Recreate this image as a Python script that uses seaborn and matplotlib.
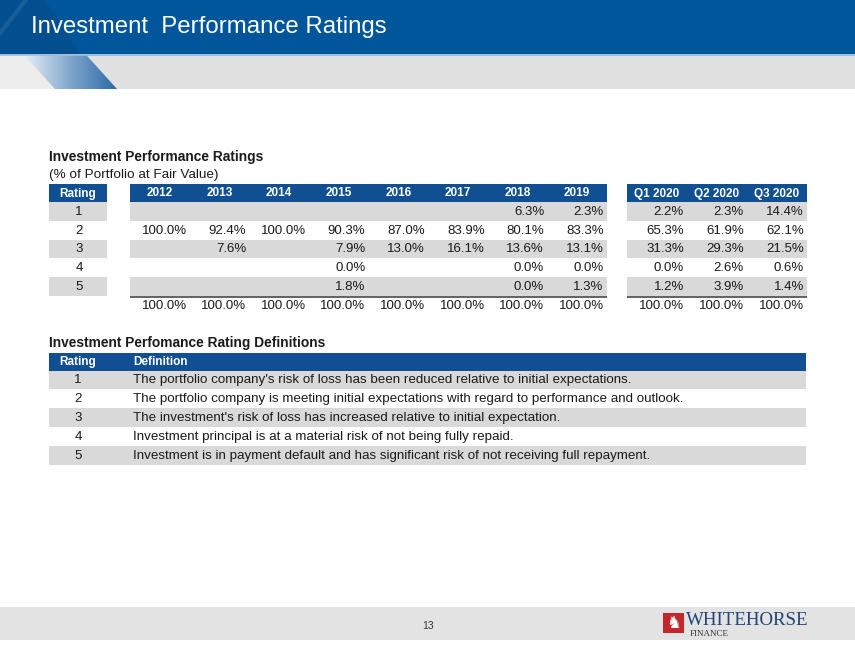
import numpy as np
import pandas as pd
import matplotlib.pyplot as plt
import seaborn as sns
from matplotlib import font_manager
from matplotlib.patches import Rectangle, Polygon
from matplotlib.colors import LinearSegmentedColormap

# ---- data ----
periods = ['2012', '2013', '2014', '2015', '2016', '2017', '2018', '2019',
           'Q1 2020', 'Q2 2020', 'Q3 2020']
ratings = [1, 2, 3, 4, 5]
nan = np.nan
rating_1 = [nan, nan, nan, nan, nan, nan, 6.3, 2.3, 2.2, 2.3, 14.4]
rating_2 = [100.0, 92.4, 100.0, 90.3, 87.0, 83.9, 80.1, 83.3, 65.3, 61.9, 62.1]
rating_3 = [nan, 7.6, nan, 7.9, 13.0, 16.1, 13.6, 13.1, 31.3, 29.3, 21.5]
rating_4 = [nan, nan, nan, 0.0, nan, nan, 0.0, 0.0, 0.0, 2.6, 0.6]
rating_5 = [nan, nan, nan, 1.8, nan, nan, 0.0, 1.3, 1.2, 3.9, 1.4]
totals = [100.0, 100.0, 100.0, 100.0, 100.0, 100.0, 100.0, 100.0, 100.0, 100.0, 100.0]

definitions = [
    "The portfolio company's risk of loss has been reduced relative to initial expectations.",
    "The portfolio company is meeting initial expectations with regard to performance and outlook.",
    "The investment's risk of loss has increased relative to initial expectation.",
    "Investment principal is at a material risk of not being fully repaid.",
    "Investment is in payment default and has significant risk of not receiving full repayment.",
]

df = pd.DataFrame([rating_1, rating_2, rating_3, rating_4, rating_5],
                  index=ratings, columns=periods)

sns.set_theme(style="white")
installed = {f.name for f in font_manager.fontManager.ttflist}
plt.rcParams['font.family'] = ['Liberation Sans', 'DejaVu Sans']
narrow = 'Liberation Sans Narrow' if 'Liberation Sans Narrow' in installed else 'Liberation Sans'
serif = 'Liberation Serif' if 'Liberation Serif' in installed else 'DejaVu Serif'

BLUE = '#00569B'
TBLUE = '#0F4F92'
GREY = '#D9D9D9'
BAND = '#E1E1E1'
TXT = '#1A1A1A'

fig = plt.figure(figsize=(8.55, 6.54), dpi=100)
ax = fig.add_axes([0, 0, 1, 1])
ax.axis('off')

# ---- slide header ----
ax.add_patch(Rectangle((0, 0), 855, 54, color=BLUE, lw=0))
ax.add_patch(Polygon([(0, 0), (45, 0), (80, 54), (0, 54)], color='#0A3F78',
                     alpha=0.3, lw=0))
ax.plot([0, 26], [33, 0], color='#6F9BC8', lw=3, alpha=0.2)
ax.add_patch(Rectangle((0, 54), 855, 1.8, color='#9DBEDD', lw=0))
ax.add_patch(Rectangle((0, 55.8), 855, 33.2, color=BAND, lw=0))
ax.add_patch(Polygon([(0, 55.8), (25, 55.8), (55, 89), (0, 89)], color='#EDEDED', lw=0))

stripe = Polygon([(25, 55.8), (87, 55.8), (117, 89), (55, 89)], facecolor='none',
                 edgecolor='none')
ax.add_patch(stripe)
grad = np.linspace(0, 1, 256).reshape(1, -1)
stripe_cmap = LinearSegmentedColormap.from_list('stripe', ['#E6ECF2', '#7FA5CB', '#2A67A6'])
im = ax.imshow(grad, extent=(25, 117, 89, 55.8), cmap=stripe_cmap, aspect='auto',
               interpolation='bilinear', zorder=1)
im.set_clip_path(stripe)

ax.text(31, 26.5, 'Investment  Performance Ratings', color='white', fontsize=17.3,
        va='center', ha='left')

# ---- table 1 ----
ax.text(49, 157, 'Investment Performance Ratings', fontsize=9.9, weight='bold',
        color=TXT, va='center', ha='left')
ax.text(49, 175, '(% of Portfolio at Fair Value)', fontsize=9.7, color=TXT,
        va='center', ha='left')

hdr_top, hdr_h = 184, 18
row_h = 18.8
body_top = hdr_top + hdr_h

rate_x0, rate_w = 49, 58
blocks = [(130, 59.6, periods[:8]), (627, 60.0, periods[8:])]

# rating column
ax.add_patch(Rectangle((rate_x0, hdr_top), rate_w, hdr_h, color=TBLUE, lw=0))
ax.text(rate_x0 + rate_w / 2, hdr_top + hdr_h / 2 + 0.5, 'Rating', color='white',
        fontsize=8.5, weight='bold', family=narrow, ha='center', va='center')
for i, r in enumerate(ratings):
    y = body_top + i * row_h
    if i % 2 == 0:
        ax.add_patch(Rectangle((rate_x0, y), rate_w, row_h, color=GREY, lw=0))
    ax.text(rate_x0 + rate_w / 2 + 1, y + row_h / 2 + 0.5, str(r), fontsize=9.5,
            color=TXT, ha='center', va='center')

col = 0
for x0, w, labels in blocks:
    n = len(labels)
    ax.add_patch(Rectangle((x0, hdr_top), w * n, hdr_h, color=TBLUE, lw=0))
    for i in range(len(ratings)):
        if i % 2 == 0:
            ax.add_patch(Rectangle((x0, body_top + i * row_h), w * n, row_h,
                                   color=GREY, lw=0))
    line_y = body_top + 5 * row_h + 0.6
    ax.plot([x0, x0 + w * n], [line_y, line_y], color='#555555', lw=1.3,
            solid_capstyle='butt')
    for j, lab in enumerate(labels):
        cx = x0 + j * w
        ax.text(cx + w / 2, hdr_top + hdr_h / 2 + 0.5, lab, color='white',
                fontsize=8.5, weight='bold', family=narrow, ha='center', va='center')
        for i, r in enumerate(ratings):
            v = df.loc[r, lab]
            if not np.isnan(v):
                ax.text(cx + w - 3, body_top + i * row_h + row_h / 2 + 0.5,
                        f'{v:.1f}%', fontsize=9.5, color=TXT, ha='right', va='center')
        ax.text(cx + w - 3, line_y + 9.5, f'{totals[col]:.1f}%', fontsize=9.5,
                color=TXT, ha='right', va='center')
        col += 1

# ---- table 2 ----
ax.text(49, 343, 'Investment Perfomance Rating Definitions', fontsize=9.9,
        weight='bold', color=TXT, va='center', ha='left')
t2_top, t2_hdr = 352.5, 18
t2_row = 18.9
t2_x0, t2_x1 = 49, 806
ax.add_patch(Rectangle((t2_x0, t2_top), t2_x1 - t2_x0, t2_hdr, color=TBLUE, lw=0))
ax.text(78, t2_top + t2_hdr / 2 + 0.5, 'Rating', color='white', fontsize=8.5,
        weight='bold', family=narrow, ha='center', va='center')
ax.text(133, t2_top + t2_hdr / 2 + 0.5, 'Definition', color='white', fontsize=8.5,
        weight='bold', family=narrow, ha='left', va='center')
for i, (r, d) in enumerate(zip(ratings, definitions)):
    y = t2_top + t2_hdr + i * t2_row
    if i % 2 == 0:
        ax.add_patch(Rectangle((t2_x0, y), t2_x1 - t2_x0, t2_row, color=GREY, lw=0))
    ax.text(78, y + t2_row / 2 + 0.5, str(r), fontsize=9.5, color=TXT,
            ha='center', va='center')
    ax.text(133, y + t2_row / 2 + 0.5, d, fontsize=9.6, color=TXT,
            ha='left', va='center')

# ---- footer ----
ax.add_patch(Rectangle((0, 607), 855, 33, color='#E3E3E3', lw=0))
ax.text(428, 626, '13', fontsize=7.5, color='#333333', ha='center', va='center')
ax.add_patch(Rectangle((663, 613), 21, 20, color='#C1272D', lw=0))
ax.text(673.5, 623.5, '\u265e', family='DejaVu Sans', fontsize=12, color='white',
        ha='center', va='center')
ax.text(686, 625, 'WHITEHORSE', family=serif, fontsize=13.6, color='#1F4473',
        ha='left', va='baseline')
ax.text(690, 636.5, 'FINANCE', family=serif, fontsize=6.5, color='#333333',
        ha='left', va='baseline')

ax.set_xlim(0, 855)
ax.set_ylim(654, 0)
fig.savefig('out.png', dpi=100)
